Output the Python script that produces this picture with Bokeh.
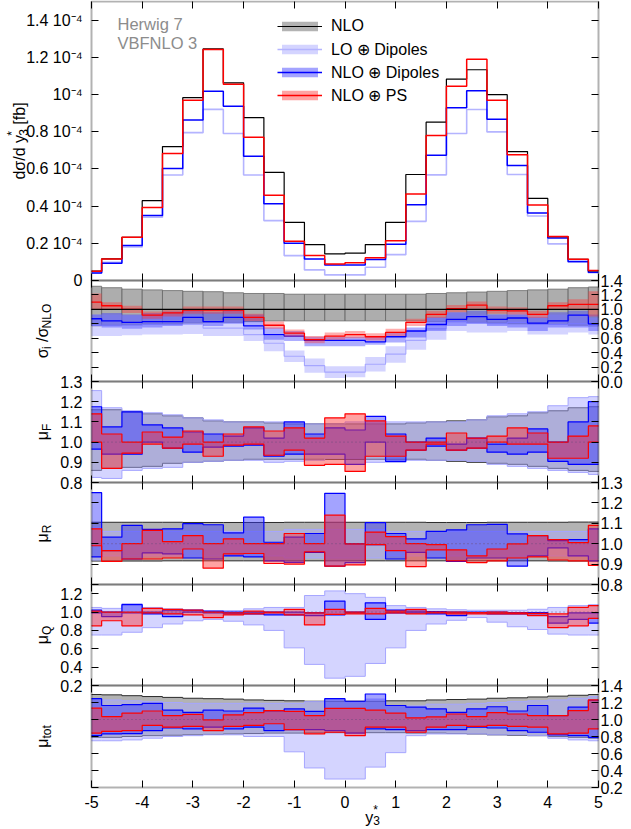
import numpy as np
from math import pi
from bokeh.plotting import figure
from bokeh.models import (LinearAxis, FixedTicker, Range1d, Label, Legend,
                          LegendItem, BoxAnnotation)
from bokeh.embed import file_html
from bokeh.resources import INLINE

# ------------------------------------------------------------------ data
EDGES = [-5.0, -4.8, -4.4, -4.0, -3.6, -3.2, -2.8, -2.4, -2.0, -1.6, -1.2, -0.8, -0.4,
         0.0, 0.4, 0.8, 1.2, 1.6, 2.0, 2.4, 2.8, 3.2, 3.6, 4.0, 4.4, 4.8, 5.0]

X_TICKS = [-5, -4, -3, -2, -1, 0, 1, 2, 3, 4, 5]
X_TICK_LABELS = ["-5", "-4", "-3", "-2", "-1", "0", "1", "2", "3", "4", "5"]

MAIN_YTICKS = [0.0, 0.2, 0.4, 0.6, 0.8, 1.0, 1.2, 1.4]
MAIN_YTICK_LABELS = ["0", "0.2 10\u207b\u2074", "0.4 10\u207b\u2074", "0.6 10\u207b\u2074",
                     "0.8 10\u207b\u2074", "10\u207b\u2074", "1.2 10\u207b\u2074", "1.4 10\u207b\u2074"]
SIG_YTICKS = [0.0, 0.2, 0.4, 0.6, 0.8, 1.0, 1.2, 1.4]
SIG_YTICK_LABELS = ["0.0", "0.2", "0.4", "0.6", "0.8", "1.0", "1.2", "1.4"]
MU_YTICKS = [0.8, 0.9, 1.0, 1.1, 1.2, 1.3]
MU_YTICK_LABELS = ["0.8", "0.9", "1.0", "1.1", "1.2", "1.3"]
Q_YTICKS = [0.2, 0.4, 0.6, 0.8, 1.0, 1.2]
Q_YTICK_LABELS = ["0.2", "0.4", "0.6", "0.8", "1.0", "1.2"]
T_YTICKS = [0.2, 0.4, 0.6, 0.8, 1.0, 1.2, 1.4]
T_YTICK_LABELS = ["0.2", "0.4", "0.6", "0.8", "1.0", "1.2", "1.4"]

SERIES = ["NLO", "LO \u2295 Dipoles", "NLO \u2295 Dipoles", "NLO \u2295 PS"]

# main panel, d sigma / d y3*  in units of 1e-4 fb
NLO = [0.050, 0.116, 0.232, 0.429, 0.720, 0.983, 1.245, 1.063, 0.876, 0.581, 0.313, 0.193, 0.143,
       0.147, 0.193, 0.313, 0.570, 0.851, 1.083, 1.133, 0.999, 0.693, 0.441, 0.236, 0.114, 0.052]
LO_DIP = [0.040, 0.098, 0.180, 0.340, 0.567, 0.795, 0.920, 0.790, 0.567, 0.322, 0.134, 0.057, 0.030,
          0.030, 0.071, 0.139, 0.318, 0.568, 0.790, 0.919, 0.799, 0.570, 0.347, 0.197, 0.098, 0.042]
NLO_DIP = [0.040, 0.093, 0.188, 0.349, 0.602, 0.863, 1.017, 0.937, 0.668, 0.413, 0.200, 0.116, 0.084,
           0.084, 0.113, 0.195, 0.407, 0.674, 0.929, 1.020, 0.867, 0.618, 0.363, 0.229, 0.102, 0.045]
NLO_PS = [0.050, 0.116, 0.232, 0.393, 0.683, 0.969, 1.242, 1.055, 0.770, 0.459, 0.211, 0.134, 0.089,
          0.095, 0.122, 0.214, 0.465, 0.779, 1.044, 1.190, 0.969, 0.676, 0.406, 0.236, 0.114, 0.054]

# sigma_i / sigma_NLO
SIG_NLO_HI = [1.32, 1.30, 1.28, 1.27, 1.26, 1.25, 1.245, 1.23, 1.22, 1.22, 1.21, 1.21, 1.21,
              1.21, 1.21, 1.21, 1.21, 1.22, 1.23, 1.24, 1.25, 1.26, 1.27, 1.28, 1.30, 1.31]
SIG_NLO_LO = [0.77, 0.78, 0.79, 0.80, 0.80, 0.81, 0.82, 0.82, 0.83, 0.84, 0.84, 0.84, 0.84,
              0.84, 0.84, 0.84, 0.84, 0.83, 0.83, 0.82, 0.81, 0.80, 0.80, 0.79, 0.78, 0.77]
SIG_LO_C = [0.78, 0.78, 0.78, 0.79, 0.79, 0.79, 0.74, 0.74, 0.65, 0.53, 0.35, 0.22, 0.13,
            0.13, 0.24, 0.38, 0.57, 0.73, 0.83, 0.81, 0.80, 0.82, 0.79, 0.79, 0.80, 0.77]
SIG_LO_HI = [0.93, 0.93, 0.92, 0.93, 0.92, 0.92, 0.85, 0.85, 0.75, 0.63, 0.43, 0.32, 0.21,
             0.21, 0.34, 0.49, 0.70, 0.89, 0.96, 0.93, 0.93, 0.96, 0.92, 0.93, 0.93, 0.88]
SIG_LO_LO = [0.63, 0.63, 0.64, 0.65, 0.65, 0.66, 0.63, 0.63, 0.56, 0.42, 0.27, 0.12, 0.05,
             0.06, 0.14, 0.26, 0.44, 0.58, 0.70, 0.68, 0.68, 0.70, 0.65, 0.65, 0.68, 0.65]
SIG_ND_C = [0.87, 0.84, 0.82, 0.83, 0.83, 0.89, 0.83, 0.89, 0.77, 0.65, 0.63, 0.57, 0.57,
            0.57, 0.55, 0.62, 0.70, 0.79, 0.86, 0.90, 0.86, 0.88, 0.81, 0.84, 0.92, 0.80]
SIG_ND_HI = [0.93, 0.95, 0.93, 0.95, 0.97, 0.98, 0.96, 1.00, 0.93, 0.75, 0.70, 0.62, 0.62,
             0.62, 0.62, 0.68, 0.75, 0.89, 0.96, 0.98, 0.93, 0.93, 0.89, 0.96, 0.98, 0.93]
SIG_ND_LO = [0.77, 0.75, 0.73, 0.75, 0.77, 0.80, 0.77, 0.80, 0.72, 0.58, 0.56, 0.49, 0.49,
             0.49, 0.51, 0.54, 0.61, 0.70, 0.77, 0.80, 0.77, 0.75, 0.70, 0.75, 0.75, 0.70]
SIG_PS_C = [1.10, 1.05, 1.00, 0.92, 0.95, 0.99, 0.99, 0.99, 0.89, 0.78, 0.67, 0.58, 0.63,
            0.65, 0.62, 0.68, 0.82, 0.93, 1.01, 1.06, 0.99, 0.98, 0.93, 1.05, 1.07, 1.07]
SIG_PS_HI = [1.22, 1.10, 1.05, 0.97, 1.00, 1.04, 1.04, 1.04, 0.94, 0.83, 0.72, 0.63, 0.68,
             0.70, 0.67, 0.73, 0.87, 0.98, 1.06, 1.11, 1.04, 1.03, 0.98, 1.10, 1.14, 1.25]
SIG_PS_LO = [1.00, 1.00, 0.95, 0.87, 0.90, 0.94, 0.94, 0.94, 0.84, 0.73, 0.62, 0.53, 0.58,
             0.60, 0.57, 0.63, 0.77, 0.88, 0.96, 1.01, 0.94, 0.93, 0.88, 1.00, 1.00, 0.90]

# mu_F variation
F_NLO_HI = [1.16, 1.16, 1.15, 1.14, 1.13, 1.12, 1.105, 1.10, 1.10, 1.095, 1.09, 1.09, 1.09,
            1.09, 1.09, 1.09, 1.095, 1.10, 1.105, 1.11, 1.125, 1.13, 1.145, 1.155, 1.17, 1.175]
F_NLO_LO = [0.86, 0.87, 0.875, 0.88, 0.895, 0.90, 0.905, 0.91, 0.915, 0.915, 0.915, 0.915, 0.915,
            0.915, 0.915, 0.915, 0.915, 0.91, 0.905, 0.90, 0.895, 0.89, 0.88, 0.87, 0.86, 0.855]
F_LO_HI = [1.255, 1.17, 1.155, 1.145, 1.135, 1.12, 1.11, 1.10, 1.10, 1.10, 1.095, 1.09, 1.09,
           1.10, 1.10, 1.10, 1.10, 1.10, 1.10, 1.11, 1.13, 1.14, 1.15, 1.18, 1.22, 1.225]
F_LO_LO = [0.825, 0.82, 0.86, 0.87, 0.875, 0.90, 0.905, 0.91, 0.91, 0.90, 0.905, 0.91, 0.92,
           0.92, 0.90, 0.90, 0.91, 0.91, 0.91, 0.905, 0.89, 0.88, 0.87, 0.86, 0.85, 0.84]
F_ND_HI = [1.175, 1.075, 1.15, 1.085, 1.07, 1.05, 1.04, 1.03, 1.07, 1.02, 1.10, 1.04, 1.07,
           1.06, 1.127, 1.04, 1.00, 1.02, 0.99, 1.02, 0.99, 1.02, 1.065, 1.00, 1.10, 1.20]
F_ND_LO = [0.965, 0.94, 0.94, 1.00, 0.97, 0.95, 0.975, 0.98, 0.985, 0.93, 0.94, 0.94, 0.94,
           0.89, 1.00, 0.905, 0.96, 0.98, 0.96, 0.97, 0.95, 0.94, 0.95, 0.905, 0.89, 0.89]
F_PS_HI = [1.14, 1.04, 1.00, 1.05, 1.025, 1.055, 1.00, 1.04, 1.075, 1.055, 1.07, 1.02, 1.12,
           1.14, 1.105, 1.03, 1.00, 1.00, 1.045, 1.02, 1.03, 1.07, 1.045, 1.00, 1.03, 1.08]
F_PS_LO = [1.00, 0.87, 0.945, 0.99, 0.97, 0.99, 0.93, 0.985, 0.99, 0.935, 0.96, 0.885, 0.89,
           0.855, 0.93, 0.93, 0.96, 0.99, 0.96, 0.97, 1.00, 0.99, 0.99, 0.92, 0.92, 1.00]

# mu_R variation
R_NLO_HI = [1.105, 1.105, 1.105, 1.105, 1.105, 1.104, 1.104, 1.104, 1.104, 1.104, 1.105, 1.105, 1.105,
            1.105, 1.105, 1.105, 1.105, 1.104, 1.104, 1.104, 1.105, 1.105, 1.105, 1.105, 1.106, 1.106]
R_NLO_LO = [0.915, 0.915, 0.915, 0.915, 0.916, 0.916, 0.916, 0.916, 0.916, 0.916, 0.916, 0.916, 0.916,
            0.916, 0.916, 0.916, 0.916, 0.916, 0.916, 0.916, 0.916, 0.916, 0.916, 0.915, 0.915, 0.915]
R_LO_HI = [1.08, 1.06, 1.06, 1.06, 1.06, 1.06, 1.06, 1.06, 1.06, 1.06, 1.07, 1.07, 1.07,
           1.07, 1.07, 1.06, 1.06, 1.06, 1.06, 1.06, 1.06, 1.06, 1.06, 1.06, 1.06, 1.07]
R_LO_LO = [0.92, 0.94, 0.94, 0.94, 0.94, 0.94, 0.94, 0.94, 0.94, 0.94, 0.93, 0.93, 0.93,
           0.93, 0.93, 0.94, 0.94, 0.94, 0.94, 0.94, 0.94, 0.94, 0.94, 0.94, 0.94, 0.93]
R_ND_HI = [1.25, 1.032, 1.09, 1.07, 1.073, 1.098, 1.093, 1.053, 1.13, 1.007, 1.032, 1.05, 1.247,
           0.999, 1.103, 1.05, 1.024, 1.06, 1.068, 1.093, 1.095, 1.048, 1.04, 1.015, 1.02, 1.073]
R_ND_LO = [0.935, 0.966, 0.925, 0.955, 0.95, 0.93, 0.925, 0.94, 0.935, 0.916, 0.908, 0.957, 0.89,
           0.907, 0.995, 0.925, 0.957, 0.93, 0.913, 0.93, 0.93, 0.89, 0.94, 0.98, 0.94, 0.916]
R_PS_HI = [1.073, 0.966, 1.0, 1.065, 1.01, 1.04, 1.0, 1.024, 1.0, 1.0, 1.05, 1.0, 1.14,
           0.999, 1.057, 1.035, 1.0, 0.995, 0.97, 0.94, 0.974, 0.999, 1.04, 1.02, 1.005, 1.09]
R_PS_LO = [0.99, 0.913, 0.925, 0.925, 0.93, 0.974, 0.88, 0.95, 0.952, 0.903, 0.90, 0.96, 0.89,
           0.896, 0.995, 0.966, 0.888, 0.97, 0.916, 0.907, 0.916, 0.93, 0.935, 0.92, 0.916, 0.894]

# mu_Q variation (no NLO band)
Q_LO_HI = [1.05, 1.04, 1.09, 1.05, 1.035, 1.015, 1.01, 1.015, 1.035, 1.05, 1.05, 1.18, 1.23,
           1.20, 1.16, 1.07, 1.05, 1.035, 1.025, 1.02, 1.02, 1.02, 1.03, 1.05, 1.07, 1.08]
Q_LO_LO = [0.75, 0.75, 0.78, 0.83, 0.87, 0.905, 0.92, 0.90, 0.86, 0.80, 0.61, 0.43, 0.28,
           0.30, 0.44, 0.61, 0.80, 0.87, 0.91, 0.94, 0.89, 0.84, 0.81, 0.76, 0.75, 0.75]
Q_ND_HI = [1.02, 1.00, 1.08, 1.00, 1.02, 1.02, 1.01, 1.00, 1.00, 1.00, 1.00, 0.99, 1.12,
           1.00, 1.10, 1.02, 1.01, 1.005, 1.00, 1.00, 1.00, 0.995, 0.995, 0.95, 0.99, 0.99]
Q_ND_LO = [0.99, 0.95, 0.99, 0.98, 0.95, 1.00, 0.99, 0.98, 0.98, 0.97, 0.97, 0.96, 0.97,
           0.99, 0.92, 0.99, 0.99, 0.98, 0.96, 0.99, 0.98, 0.98, 0.98, 0.88, 0.92, 0.88]
Q_PS_HI = [1.01, 1.00, 1.00, 1.04, 1.03, 1.02, 1.00, 0.99, 1.01, 1.00, 1.03, 0.99, 1.03,
           1.00, 1.04, 1.01, 1.03, 1.00, 1.00, 0.995, 1.00, 0.99, 0.985, 0.98, 1.05, 1.07]
Q_PS_LO = [0.85, 0.905, 0.85, 0.99, 0.98, 0.97, 0.94, 0.97, 0.98, 0.99, 0.97, 0.86, 0.975,
           0.98, 0.98, 0.99, 0.98, 0.99, 0.98, 0.98, 0.98, 0.98, 0.96, 0.83, 0.85, 0.93]

# all scales varied together
T_NLO_HI = [1.294, 1.29, 1.28, 1.27, 1.26, 1.25, 1.245, 1.24, 1.23, 1.225, 1.22, 1.215, 1.215,
            1.215, 1.215, 1.22, 1.22, 1.23, 1.235, 1.24, 1.25, 1.255, 1.265, 1.275, 1.285, 1.294]
T_NLO_LO = [0.79, 0.79, 0.80, 0.81, 0.815, 0.82, 0.825, 0.83, 0.835, 0.84, 0.84, 0.845, 0.845,
            0.845, 0.845, 0.845, 0.84, 0.84, 0.835, 0.83, 0.82, 0.815, 0.81, 0.80, 0.79, 0.78]
T_LO_HI = [1.24, 1.23, 1.22, 1.21, 1.20, 1.19, 1.19, 1.19, 1.19, 1.19, 1.19, 1.21, 1.24,
           1.20, 1.24, 1.16, 1.16, 1.18, 1.18, 1.19, 1.20, 1.21, 1.22, 1.23, 1.25, 1.27]
T_LO_LO = [0.75, 0.75, 0.76, 0.78, 0.80, 0.81, 0.82, 0.82, 0.80, 0.80, 0.62, 0.43, 0.30,
           0.30, 0.44, 0.61, 0.81, 0.83, 0.83, 0.83, 0.82, 0.82, 0.81, 0.78, 0.76, 0.75]
T_ND_HI = [1.245, 1.165, 1.175, 1.19, 1.11, 1.085, 1.11, 1.10, 1.135, 1.10, 1.125, 1.095, 1.245,
           1.215, 1.30, 1.165, 1.145, 1.125, 1.085, 1.125, 1.15, 1.10, 1.165, 1.045, 1.145, 1.225]
T_ND_LO = [0.81, 0.83, 0.835, 0.87, 0.90, 0.89, 0.91, 0.89, 0.91, 0.87, 0.88, 0.88, 0.87,
           0.84, 0.89, 0.88, 0.87, 0.88, 0.88, 0.91, 0.90, 0.87, 0.85, 0.82, 0.81, 0.79]
T_PS_HI = [1.135, 1.035, 1.075, 1.10, 1.045, 1.06, 0.995, 1.055, 1.08, 1.105, 1.095, 1.045, 1.13,
           1.13, 1.11, 1.075, 1.02, 1.03, 1.065, 1.035, 1.08, 1.065, 1.045, 1.045, 1.105, 1.23]
T_PS_LO = [0.84, 0.86, 0.87, 0.93, 0.91, 0.92, 0.87, 0.92, 0.93, 0.95, 0.88, 0.83, 0.85,
           0.81, 0.91, 0.91, 0.85, 0.91, 0.93, 0.92, 0.93, 0.92, 0.91, 0.83, 0.84, 0.89]

# ------------------------------------------------------------------ layout / style
FONT = "Liberation Sans"
TICK_FS = "16px"
FW = 507            # width of the plotting area (pixels)
BL, BR = 91, 32     # room left / right of the plotting area
TOP_M, BOT_M = 1, 41
# name, data range, panel height in pixels (top to bottom)
PANEL_SPECS = [("main", 0.0, 1.5, 279), ("sig", 0.0, 1.4, 101), ("muF", 0.8, 1.3, 101),
               ("muR", 0.8, 1.3, 102), ("muQ", 0.2, 1.3, 101), ("muT", 0.2, 1.4, 102)]

W = BL + FW + BR
H = TOP_M + sum(s[3] for s in PANEL_SPECS) + BOT_M

GREY_FILL, GREY_ALPHA, GREY_LINE = "#999999", 0.75, "#2a2a2a"
LB_FILL, LB_ALPHA, LB_LINE = "#aaaaff", 0.5, "#a6a6ff"
BLUE_FILL, BLUE_ALPHA, BLUE_LINE = "#3333ff", 0.45, "#0000ff"
RED_FILL, RED_ALPHA, RED_LINE = "#ff3333", 0.45, "#ff0000"

CW = {'d': .556, '\u03c3': .571, '/': .278, ' ': .278, 'y': .5, '3': .556, '*': .389,
      '[': .278, 'f': .278, 'b': .556, ']': .278, 'i': .222, 'N': .722, 'L': .556,
      'O': .778, '\u03bc': .576, 'F': .611, 'R': .722, 'Q': .778, 't': .278, 'o': .556}

XS = np.repeat(np.array(EDGES), 2)[1:-1]


def rep(v):
    return np.repeat(np.asarray(v, dtype=float), 2)


def text_w(s, size):
    return sum(CW.get(c, 0.55) for c in s) * size


# one canvas; each panel gets its own y range mapped onto its strip
x_lo = EDGES[0] - BL * (EDGES[-1] - EDGES[0]) / FW
x_hi = EDGES[-1] + BR * (EDGES[-1] - EDGES[0]) / FW
GEOM = {}
extra = {}
top = H - TOP_M
for name, d0, d1, h in PANEL_SPECS:
    p1, p0 = top, top - h
    top = p0
    s = (d1 - d0) / h
    GEOM[name] = (d0, d1, h, s, p0)
    extra[name] = Range1d(d0 - p0 * s, d1 + (H - p1) * s)

p = figure(frame_width=W, frame_height=H, x_range=Range1d(x_lo, x_hi), y_range=Range1d(0, H),
           output_backend="svg", toolbar_location=None, title=None,
           x_axis_location=None, y_axis_location=None, min_border=0,
           min_border_left=0, min_border_right=0, min_border_top=0, min_border_bottom=0)
p.extra_y_ranges = extra
p.grid.visible = False
p.outline_line_color = None
p.background_fill_color = "white"
p.border_fill_color = "white"


def px2data(name, px, py):
    d0, d1, h, s, p0 = GEOM[name]
    return EDGES[0] + px * (EDGES[-1] - EDGES[0]) / FW, d0 + py * s


def style_axis(ax, labels):
    ax.axis_line_color = None
    ax.major_tick_in = 7
    ax.major_tick_out = 0
    ax.major_tick_line_color = "black"
    ax.major_tick_line_width = 1
    ax.minor_tick_line_color = None
    if labels:
        ax.major_label_text_font = FONT
        ax.major_label_text_font_size = TICK_FS
        ax.major_label_text_color = "black"
    else:
        ax.major_label_text_color = None


def add_axes(name, yticks, ylabels, yside, xlabels=False):
    d0, d1 = GEOM[name][0], GEOM[name][1]
    for side in ("left", "right"):
        ax = LinearAxis(y_range_name=name, ticker=FixedTicker(ticks=yticks),
                        fixed_location=EDGES[0] if side == "left" else EDGES[-1])
        if side == yside:
            ax.major_label_overrides = dict(zip(yticks, ylabels))
            ax.major_label_standoff = 9 if side == "left" else 2
            style_axis(ax, True)
        else:
            style_axis(ax, False)
        p.add_layout(ax, side)
    for side in ("above", "below"):
        ax = LinearAxis(y_range_name=name, ticker=FixedTicker(ticks=X_TICKS),
                        fixed_location=d1 if side == "above" else d0)
        if side == "below" and xlabels:
            ax.major_label_overrides = dict(zip(X_TICKS, X_TICK_LABELS))
            ax.major_label_standoff = 8
            style_axis(ax, True)
        else:
            style_axis(ax, False)
        p.add_layout(ax, side)
    p.add_layout(BoxAnnotation(left=EDGES[0], right=EDGES[-1], bottom=d0, top=d1,
                               y_range_name=name, fill_color=None, fill_alpha=0,
                               line_color="black", line_width=2))


def rich_text(name, pieces, px, py, vertical, color="black"):
    """pieces: (text, font size, baseline shift px, advance?)"""
    cursor, pending = 0.0, 0.0
    for text, size, shift, adv in pieces:
        lead = len(text) - len(text.lstrip(" "))
        cursor += lead * CW[" "] * size          # SVG drops leading blanks
        text = text.lstrip(" ")
        w = text_w(text, size)
        if vertical:
            X, Y = px2data(name, px - shift, py + cursor)
            ang = pi / 2
        else:
            X, Y = px2data(name, px + cursor, py + shift)
            ang = 0.0
        p.add_layout(Label(x=X, y=Y, y_range_name=name, text=text, angle=ang, text_font=FONT,
                           text_font_size=f"{size}px", text_color=color,
                           text_align="left", text_baseline="alphabetic"))
        if adv:
            cursor += max(w, pending)
            pending = 0.0
        else:
            pending = w


def total_w(pieces):
    tot, pending = 0.0, 0.0
    for text, size, shift, adv in pieces:
        w = text_w(text, size)
        if adv:
            tot += max(w, pending)
            pending = 0.0
        else:
            pending = w
    return tot


def vtitle(name, pieces, px):
    h = GEOM[name][2]
    rich_text(name, pieces, px, h / 2 - total_w(pieces) / 2, True)


def band(name, lo, hi, fill, alpha, line=None, lw=1.0):
    r = p.varea(x=XS, y1=rep(lo), y2=rep(hi), fill_color=fill, fill_alpha=alpha,
                y_range_name=name)
    if line is not None:
        p.line(XS, rep(hi), line_color=line, line_width=lw, y_range_name=name)
        p.line(XS, rep(lo), line_color=line, line_width=lw, y_range_name=name)
    return r


def stepline(name, v, color, lw):
    return p.line(XS, rep(v), line_color=color, line_width=lw, y_range_name=name)


def unity(name, color, width, dash="solid", alpha=1.0):
    p.segment(x0=EDGES[0], x1=EDGES[-1], y0=1.0, y1=1.0, line_color=color, line_width=width,
              line_dash=dash, line_alpha=alpha, y_range_name=name)


# ------------------------------------------------------------------ main panel
MAIN_H = GEOM["main"][2]
add_axes("main", MAIN_YTICKS, MAIN_YTICK_LABELS, "left")
r_lo = stepline("main", LO_DIP, "#b4b4ff", 1.6)
r_nd = stepline("main", NLO_DIP, BLUE_LINE, 1.5)
r_nlo = stepline("main", NLO, "black", 1.2)
r_ps = stepline("main", NLO_PS, RED_LINE, 1.5)

for txt, ypx in (("Herwig 7", MAIN_H - 22.0), ("VBFNLO 3", MAIN_H - 41.0)):
    X, Y = px2data("main", 26.0, ypx)
    p.add_layout(Label(x=X, y=Y, y_range_name="main", text=txt, text_font=FONT,
                       text_font_size="16.5px", text_color="#8c8c8c",
                       text_align="left", text_baseline="middle"))

vtitle("main", [("d\u03c3/d y", 16, 0, True), ("3", 12, -3.5, False), ("*", 12, 8, True),
                (" [fb]", 16, 0, True)], -72)

# ------------------------------------------------------------------ sigma ratio panel
add_axes("sig", SIG_YTICKS, SIG_YTICK_LABELS, "right")
p.quad(left=EDGES[:-1], right=EDGES[1:], bottom=SIG_NLO_LO, top=SIG_NLO_HI,
       fill_color=GREY_FILL, fill_alpha=0.8, line_color="#6a6a6a", line_width=0.8,
       y_range_name="sig")
band("sig", SIG_LO_LO, SIG_LO_HI, LB_FILL, LB_ALPHA)
stepline("sig", SIG_LO_C, LB_LINE, 1.1)
band("sig", SIG_ND_LO, SIG_ND_HI, BLUE_FILL, 0.4)
stepline("sig", SIG_ND_C, BLUE_LINE, 1.3)
band("sig", SIG_PS_LO, SIG_PS_HI, RED_FILL, 0.4)
stepline("sig", SIG_PS_C, RED_LINE, 1.3)
unity("sig", "black", 1.2)
vtitle("sig", [("\u03c3", 16, 0, True), ("i", 12, -4.5, True), (" /\u03c3", 16, 0, True),
               ("NLO", 12, -4.5, True)], -49)


# ------------------------------------------------------------------ scale-variation panels
def mu_panel(name, ticks, labels, side, bands, title, xlabels=False):
    add_axes(name, ticks, labels, side, xlabels=xlabels)
    rs = []
    for lo, hi, fill, alpha, line, lw in bands:
        rs.append(band(name, lo, hi, fill, alpha, line=line, lw=lw))
    unity(name, "#6a4a7a", 1, dash="1 3", alpha=0.9)
    vtitle(name, title, -49)
    return rs


mu_panel("muF", MU_YTICKS, MU_YTICK_LABELS, "left",
         [(F_NLO_LO, F_NLO_HI, GREY_FILL, GREY_ALPHA, GREY_LINE, 1.0),
          (F_LO_LO, F_LO_HI, LB_FILL, LB_ALPHA, LB_LINE, 1.0),
          (F_ND_LO, F_ND_HI, BLUE_FILL, BLUE_ALPHA, BLUE_LINE, 1.2),
          (F_PS_LO, F_PS_HI, RED_FILL, RED_ALPHA, RED_LINE, 1.2)],
         [("\u03bc", 16, 0, True), ("F", 12, -4.5, True)])

mu_panel("muR", MU_YTICKS, MU_YTICK_LABELS, "right",
         [(R_NLO_LO, R_NLO_HI, GREY_FILL, GREY_ALPHA, GREY_LINE, 1.0),
          (R_LO_LO, R_LO_HI, LB_FILL, LB_ALPHA, LB_LINE, 1.0),
          (R_ND_LO, R_ND_HI, BLUE_FILL, BLUE_ALPHA, BLUE_LINE, 1.2),
          (R_PS_LO, R_PS_HI, RED_FILL, RED_ALPHA, RED_LINE, 1.2)],
         [("\u03bc", 16, 0, True), ("R", 12, -4.5, True)])

mu_panel("muQ", Q_YTICKS, Q_YTICK_LABELS, "left",
         [(Q_LO_LO, Q_LO_HI, LB_FILL, LB_ALPHA, LB_LINE, 1.0),
          (Q_ND_LO, Q_ND_HI, BLUE_FILL, BLUE_ALPHA, BLUE_LINE, 1.2),
          (Q_PS_LO, Q_PS_HI, RED_FILL, RED_ALPHA, RED_LINE, 1.2)],
         [("\u03bc", 16, 0, True), ("Q", 12, -4.5, True)])

t_bands = mu_panel("muT", T_YTICKS, T_YTICK_LABELS, "right",
                   [(T_NLO_LO, T_NLO_HI, GREY_FILL, GREY_ALPHA, GREY_LINE, 1.0),
                    (T_LO_LO, T_LO_HI, LB_FILL, LB_ALPHA, LB_LINE, 1.0),
                    (T_ND_LO, T_ND_HI, BLUE_FILL, BLUE_ALPHA, BLUE_LINE, 1.2),
                    (T_PS_LO, T_PS_HI, RED_FILL, RED_ALPHA, RED_LINE, 1.2)],
                   [("\u03bc", 16, 0, True), ("tot", 12, -4.5, True)], xlabels=True)

# x-axis title  y*_3
x_px = (0.40 - EDGES[0]) * FW / (EDGES[-1] - EDGES[0])
rich_text("muT", [("y", 16, 0, True), ("3", 12, -3.0, False), ("*", 12, 7.0, True)],
          x_px, -29.5, False)

# ------------------------------------------------------------------ legend
leg = Legend(items=[LegendItem(label=SERIES[0], renderers=[t_bands[0], r_nlo]),
                    LegendItem(label=SERIES[1], renderers=[t_bands[1], r_lo]),
                    LegendItem(label=SERIES[2], renderers=[t_bands[2], r_nd]),
                    LegendItem(label=SERIES[3], renderers=[t_bands[3], r_ps])],
             location=(277, H - 105.5), glyph_width=45, glyph_height=12,
             label_height=21, spacing=2, padding=0, margin=0, label_standoff=9,
             border_line_color=None, background_fill_alpha=0.0,
             label_text_font=FONT, label_text_font_size=TICK_FS, label_text_color="black")
p.add_layout(leg)

with open("out.html", "w") as f:
    f.write(file_html(p, INLINE))
